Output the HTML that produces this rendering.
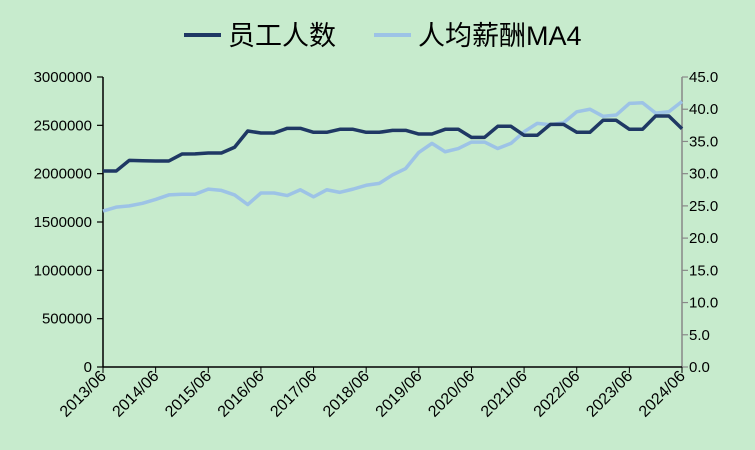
<!DOCTYPE html>
<html><head><meta charset="utf-8"><style>
html,body{margin:0;padding:0;background:#c7ebcd;}
svg{display:block;font-family:"Liberation Sans","Noto Sans CJK SC",sans-serif;}
</style></head><body>
<svg id="chart" width="755" height="450" viewBox="0 0 755 450">
<rect width="755" height="450" fill="#c7ebcd"/>
<g>
 <g>
  <line x1="184" y1="35" x2="221" y2="35" stroke="#1f3864" stroke-width="4"/>
  <text x="228" y="45" font-size="27" fill="#000">员工人数</text>
 </g>
 <g>
  <line x1="374" y1="35" x2="411" y2="35" stroke="#9dc3e6" stroke-width="4"/>
  <text x="418" y="45" font-size="27" fill="#000">人均薪酬MA4</text>
 </g>
</g>
<g id="axes"></g>
<g id="marks"></g>
</svg>
<script>
const employees=[2027,2027,2138,2134,2131,2131,2203,2205,2214,2214,2273,2441,2421,2421,2469,2469,2428,2428,2459,2459,2428,2428,2448,2448,2410,2410,2459,2459,2376,2376,2490,2490,2397,2397,2510,2510,2428,2428,2552,2552,2459,2459,2597,2597,2465].map(v=>v*1000);
const salary=[24.2,24.8,25.0,25.4,26.0,26.7,26.8,26.8,27.6,27.4,26.7,25.2,27.0,27.0,26.6,27.5,26.4,27.5,27.1,27.6,28.2,28.5,29.8,30.8,33.3,34.7,33.4,33.9,34.9,34.9,33.9,34.7,36.5,37.8,37.6,37.9,39.6,40.0,38.9,39.1,40.9,41.0,39.4,39.6,41.2];
const leftTicks=[0,500000,1000000,1500000,2000000,2500000,3000000];
const rightTicks=[0,5,10,15,20,25,30,35,40,45];
const xLabels=["2013/06","2014/06","2015/06","2016/06","2017/06","2018/06","2019/06","2020/06","2021/06","2022/06","2023/06","2024/06"];
</script>
<script>
const NS="http://www.w3.org/2000/svg";
const X0=103,X1=682,Y0=367,Y1=77;
const n=salary.length;
const xs=i=>X0+(X1-X0)*i/(n-1);
const yl=v=>Y0-(Y0-Y1)*v/3000000;
const yr=v=>Y0-(Y0-Y1)*v/45;
const axes=document.getElementById('axes'),marks=document.getElementById('marks');
function mk(tag,attrs,parent){const e=document.createElementNS(NS,tag);for(const k in attrs)e.setAttribute(k,attrs[k]);parent.appendChild(e);return e;}
let e;
e=mk('line',{x1:X0,y1:Y1,x2:X0,y2:Y0,stroke:'#000','stroke-width':1.5},axes);


e=mk('line',{x1:X1,y1:Y1,x2:X1,y2:Y0,stroke:'#888','stroke-width':1.5},axes);


e=mk('line',{x1:X0,y1:Y0,x2:X1,y2:Y0,stroke:'#000','stroke-width':1.5},axes);


leftTicks.forEach(v=>{
 mk('line',{x1:X0-6,y1:yl(v),x2:X0,y2:yl(v),stroke:'#000','stroke-width':1.2},axes);
 const t=mk('text',{x:X0-11,y:yl(v)+5,'font-size':15,'text-anchor':'end',fill:'#000'},axes);
 t.textContent=v;
 
 
});
rightTicks.forEach(v=>{
 mk('line',{x1:X1,y1:yr(v),x2:X1+6,y2:yr(v),stroke:'#888','stroke-width':1.2},axes);
 const t=mk('text',{x:X1+7,y:yr(v)+5,'font-size':15,'text-anchor':'start',fill:'#000'},axes);
 t.textContent=v.toFixed(1);
 
 
});
for(let i=0;i<n;i++){mk('line',{x1:xs(i),y1:Y0,x2:xs(i),y2:Y0+(i%4===0?6:0),stroke:'#000','stroke-width':1},axes);}
xLabels.forEach((s,k)=>{
 const x=xs(k*4),y=Y0+10;
 const t=mk('text',{x:x+4,y:y,'font-size':16,'text-anchor':'end',fill:'#000',transform:`rotate(-45 ${x+4} ${y})`},axes);
 t.textContent=s;
 
 
});
e=mk('polyline',{points:salary.map((v,i)=>xs(i)+','+yr(v)).join(' '),fill:'none',stroke:'#9dc3e6','stroke-width':3.5,'stroke-linejoin':'round'},marks);


e=mk('polyline',{points:employees.map((v,i)=>xs(i)+','+yl(v)).join(' '),fill:'none',stroke:'#1f3864','stroke-width':3.5,'stroke-linejoin':'round'},marks);


</script>
</body></html>
